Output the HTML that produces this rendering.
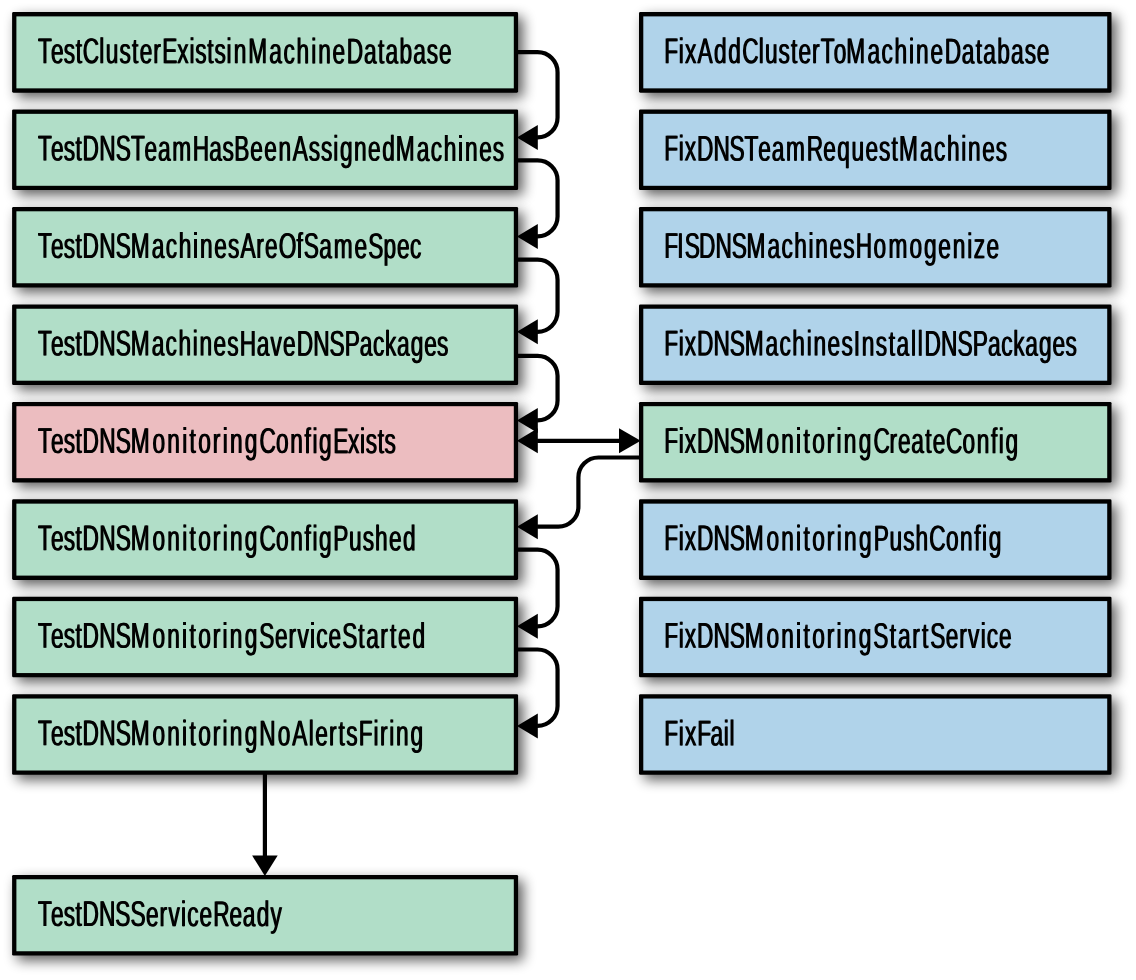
<!DOCTYPE html>
<html lang="en"><head><meta charset="utf-8"><title>Diagram</title>
<style>
html,body{margin:0;padding:0;background:#fff;}
body{width:1136px;height:980px;position:relative;overflow:hidden;font-family:"Liberation Sans",sans-serif;}
.o{fill:#000;}
.g{fill:#b1dec8}.u{fill:#b0d3ea}.p{fill:#ecbdc0}
svg{position:absolute;left:0;top:0;}
text{font-family:"Liberation Sans",sans-serif;font-size:36px;fill:#000;text-rendering:geometricPrecision;}
.a{fill:none;stroke:#000;stroke-width:4.2;}
</style></head><body>
<svg width="1136" height="980" viewBox="0 0 1136 980">
<defs><filter id="sh" x="-10%" y="-40%" width="120%" height="180%"><feGaussianBlur in="SourceAlpha" stdDeviation="6.5"/><feOffset dx="5" dy="5"/><feComponentTransfer><feFuncA type="linear" slope="0.64"/></feComponentTransfer><feMerge><feMergeNode/><feMergeNode in="SourceGraphic"/></feMerge></filter></defs>
<rect class="o" x="12.1" y="12.1" width="506" height="80.55" rx="1.3" filter="url(#sh)"/><rect class="g" x="16.4" y="16.4" width="497.4" height="71.95"/>
<rect class="o" x="12.1" y="109.55" width="506" height="80.55" rx="1.3" filter="url(#sh)"/><rect class="g" x="16.4" y="113.85" width="497.4" height="71.95"/>
<rect class="o" x="12.1" y="207" width="506" height="80.55" rx="1.3" filter="url(#sh)"/><rect class="g" x="16.4" y="211.3" width="497.4" height="71.95"/>
<rect class="o" x="12.1" y="304.45" width="506" height="80.55" rx="1.3" filter="url(#sh)"/><rect class="g" x="16.4" y="308.75" width="497.4" height="71.95"/>
<rect class="o" x="12.1" y="401.9" width="506" height="80.55" rx="1.3" filter="url(#sh)"/><rect class="p" x="16.4" y="406.2" width="497.4" height="71.95"/>
<rect class="o" x="12.1" y="499.35" width="506" height="80.55" rx="1.3" filter="url(#sh)"/><rect class="g" x="16.4" y="503.65" width="497.4" height="71.95"/>
<rect class="o" x="12.1" y="596.8" width="506" height="80.55" rx="1.3" filter="url(#sh)"/><rect class="g" x="16.4" y="601.1" width="497.4" height="71.95"/>
<rect class="o" x="12.1" y="694.25" width="506" height="80.55" rx="1.3" filter="url(#sh)"/><rect class="g" x="16.4" y="698.55" width="497.4" height="71.95"/>
<rect class="o" x="12.1" y="875" width="506" height="80.55" rx="1.3" filter="url(#sh)"/><rect class="g" x="16.4" y="879.3" width="497.4" height="71.95"/>
<rect class="o" x="639" y="12.1" width="472.5" height="80.55" rx="1.3" filter="url(#sh)"/><rect class="u" x="643.3" y="16.4" width="463.9" height="71.95"/>
<rect class="o" x="639" y="109.55" width="472.5" height="80.55" rx="1.3" filter="url(#sh)"/><rect class="u" x="643.3" y="113.85" width="463.9" height="71.95"/>
<rect class="o" x="639" y="207" width="472.5" height="80.55" rx="1.3" filter="url(#sh)"/><rect class="u" x="643.3" y="211.3" width="463.9" height="71.95"/>
<rect class="o" x="639" y="304.45" width="472.5" height="80.55" rx="1.3" filter="url(#sh)"/><rect class="u" x="643.3" y="308.75" width="463.9" height="71.95"/>
<rect class="o" x="639" y="401.9" width="472.5" height="80.55" rx="1.3" filter="url(#sh)"/><rect class="g" x="643.3" y="406.2" width="463.9" height="71.95"/>
<rect class="o" x="639" y="499.35" width="472.5" height="80.55" rx="1.3" filter="url(#sh)"/><rect class="u" x="643.3" y="503.65" width="463.9" height="71.95"/>
<rect class="o" x="639" y="596.8" width="472.5" height="80.55" rx="1.3" filter="url(#sh)"/><rect class="u" x="643.3" y="601.1" width="463.9" height="71.95"/>
<rect class="o" x="639" y="694.25" width="472.5" height="80.55" rx="1.3" filter="url(#sh)"/><rect class="u" x="643.3" y="698.55" width="463.9" height="71.95"/>
<path class="a" d="M517.1 52.2 H537.55 A20 20 0 0 1 557.55 72.2 V117.4 A20 20 0 0 1 537.55 137.4 H537.1"/><path d="M516.9 137.4 L537.8 124.9 L537.8 149.9 Z"/>
<path class="a" d="M517.1 160.3 H537.55 A20 20 0 0 1 557.55 180.3 V216.4 A20 20 0 0 1 537.55 236.4 H537.1"/><path d="M516.9 236.4 L537.8 223.9 L537.8 248.9 Z"/>
<path class="a" d="M517.1 259.7 H537.55 A20 20 0 0 1 557.55 279.7 V311.8 A20 20 0 0 1 537.55 331.8 H537.1"/><path d="M516.9 331.8 L537.8 319.3 L537.8 344.3 Z"/>
<path class="a" d="M517.1 355.8 H537.55 A20 20 0 0 1 557.55 375.8 V400.4 A20 20 0 0 1 537.55 420.4 H537.1"/><path d="M516.9 420.4 L537.8 407.9 L537.8 432.9 Z"/>
<path class="a" d="M517.1 549.6 H537.55 A20 20 0 0 1 557.55 569.6 V606.3 A20 20 0 0 1 537.55 626.3 H537.1"/><path d="M516.9 626.3 L537.8 613.8 L537.8 638.8 Z"/>
<path class="a" d="M517.1 649.5 H537.55 A20 20 0 0 1 557.55 669.5 V705.95 A20 20 0 0 1 537.55 725.95 H537.1"/><path d="M516.9 725.95 L537.8 713.45 L537.8 738.45 Z"/>
<path class="a" d="M537.1 440.8 H620"/>
<path d="M516.9 440.8 L537.8 428.3 L537.8 453.3 Z"/>
<path d="M640.7 440.8 L619 428.3 L619 453.3 Z"/>
<path class="a" d="M640 457.5 H598.4 A20 20 0 0 0 578.4 477.5 V506.7 A20 20 0 0 1 558.4 526.7 H537.1"/>
<path d="M516.9 526.7 L537.8 514.2 L537.8 539.2 Z"/>
<path class="a" d="M264.9 773.8 V856"/>
<path d="M264.9 875.9 L252.1 855.6 L277.7 855.6 Z"/>
<g class="t" opacity="0.999" transform="translate(-0.5,0)">
<text id="t0" transform="matrix(0.63,0.000567,0,1,0,-0.219)" y="63.35" x="60.14 80.97 101.38 120.21 131.51 157.7 167.95 189.65 209.46 221.78 243.37 257.52 281.22 300.65 309.75 329.03 340.49 359.49 371.06 393.87 427.54 450.03 470.79 493.92 505.03 527.94 550.54 577.63 600.03 612.03 634.11 655.98 677.56 696.81">TestClusterExistsinMachineDatabase</text><use href="#t0" x="1"/>
<text id="t1" transform="matrix(0.63,0.000567,0,1,0,-0.243)" y="160.75" x="60.14 80.79 101.05 119.75 131.02 157.54 183.78 207.92 229.49 250.67 273.29 305.78 332.21 353.05 371.65 397.25 419.54 442.17 464.86 490.25 509.4 529.08 539.62 562.03 584.24 606.6 628.32 661.68 683.87 704.33 727.16 737.97 760.59 782.03">TestDNSTeamHasBeenAssignedMachines</text><use href="#t1" x="1"/>
<text id="t2" transform="matrix(0.63,0.000567,0,1,0,-0.206)" y="258.05" x="60.14 80.79 101.05 119.75 131.02 157.57 183.79 207.52 240.92 263.13 283.62 306.46 317.29 339.9 361.86 381.84 406.95 420.79 442.27 470.7 482.33 506.78 529.73 562.51 584.4 608.62 630.17 650.73">TestDNSMachinesAreOfSameSpec</text><use href="#t2" x="1"/>
<text id="t3" transform="matrix(0.63,0.000567,0,1,0,-0.218)" y="355.65" x="60.14 80.79 101.05 119.75 131.02 157.57 183.79 207.52 240.75 262.83 283.17 305.89 316.59 339.06 360.89 380.7 407.67 429.56 449.24 470.86 497.1 523.11 547.21 571.13 592.22 611 630.27 652.05 673.43 693.78">TestDNSMachinesHaveDNSPackages</text><use href="#t3" x="1"/>
<text id="t4" transform="matrix(0.63,0.000567,0,1,0,-0.195)" y="453.05" x="60.14 80.79 101.05 119.75 131.02 157.57 183.79 207.52 242.03 265.57 289.13 300.84 314.67 337.78 353.4 364.9 388.65 411.83 438.24 460.81 483.32 495.87 506.52 528.79 552.33 571.59 580.52 599.63 610.44">TestDNSMonitoringConfigExists</text><use href="#t4" x="1"/>
<text id="t5" transform="matrix(0.63,0.000567,0,1,0,-0.203)" y="550.45" x="60.14 80.79 101.05 119.75 131.02 157.57 183.79 207.52 242.03 265.57 289.13 300.84 314.67 337.78 353.4 364.9 388.65 411.83 438.24 460.81 483.32 495.87 506.52 528.79 553.9 575.62 595.22 617.29 639.6">TestDNSMonitoringConfigPushed</text><use href="#t5" x="1"/>
<text id="t6" transform="matrix(0.63,0.000567,0,1,0,-0.207)" y="647.95" x="60.14 80.79 101.05 119.75 131.02 157.57 183.79 207.52 242 265.52 289.06 300.76 314.56 337.65 353.27 364.76 388.48 411.7 436.33 457.89 472.1 492.14 501.83 521.44 543.13 568.83 581.41 603.76 618.97 631.84 654.68">TestDNSMonitoringServiceStarted</text><use href="#t6" x="1"/>
<text id="t7" transform="matrix(0.63,0.000567,0,1,0,-0.206)" y="745.45" x="60.14 80.79 101.05 119.75 131.02 157.57 183.79 207.52 241.98 265.51 289.03 300.73 314.51 337.6 353.21 364.7 388.4 411.65 440.76 463.9 490.08 500.41 522.35 537.35 549.7 569.43 592.86 603.11 617.9 628.6 651.51">TestDNSMonitoringNoAlertsFiring</text><use href="#t7" x="1"/>
<text id="t8" transform="matrix(0.63,0.000567,0,1,0,-0.143)" y="926.15" x="60.14 80.79 101.05 119.75 131.02 157.16 183.11 207.1 231.68 253.21 267.38 287.4 297.05 316.63 338.32 364.33 385.46 407.59 429.37">TestDNSServiceReady</text><use href="#t8" x="1"/>
<text id="t9" transform="matrix(0.63,0.000567,0,1,0,-0.77)" y="63.35" x="1054.51 1077.56 1087.46 1107.24 1133.37 1156.06 1178.33 1204.3 1214.37 1235.84 1255.48 1267.57 1288.97 1302.84 1323.44 1343.4 1376.94 1399.35 1420.02 1443.06 1454.08 1476.9 1499.43 1526.52 1548.92 1560.92 1583 1604.87 1626.44 1645.7">FixAddClusterToMachineDatabase</text><use href="#t9" x="1"/>
<text id="t10" transform="matrix(0.63,0.000567,0,1,0,-0.752)" y="160.75" x="1054.51 1077.27 1086.92 1106.41 1132.37 1158.14 1181.89 1203.62 1224.95 1247.73 1280.38 1306.81 1329.11 1351.51 1373.63 1395.16 1415.08 1427.05 1460.38 1482.56 1503 1525.79 1536.59 1559.17 1580.6">FixDNSTeamRequestMachines</text><use href="#t10" x="1"/>
<text id="t11" transform="matrix(0.63,0.000567,0,1,0,-0.747)" y="258.05" x="1054.51 1075.1 1087.1 1109.43 1135.6 1161.52 1184.98 1218.22 1240.33 1260.7 1283.43 1294.14 1316.65 1338.49 1358.32 1386.6 1410.19 1443.76 1466.87 1489.46 1512.16 1535.16 1545.63 1565.7">FISDNSMachinesHomogenize</text><use href="#t11" x="1"/>
<text id="t12" transform="matrix(0.63,0.000567,0,1,0,-0.783)" y="355.65" x="1054.51 1077.27 1086.92 1106.41 1132.59 1158.51 1181.97 1215.24 1237.35 1257.71 1280.44 1291.17 1313.7 1335.54 1355.25 1367.83 1390.17 1410.59 1423.17 1445.92 1456.75 1467.37 1493.79 1519.97 1544.19 1568.19 1589.35 1608.19 1627.52 1649.38 1670.81 1691.24">FixDNSMachinesInstallDNSPackages</text><use href="#t12" x="1"/>
<text id="t13" transform="matrix(0.63,0.000567,0,1,0,-0.756)" y="453.05" x="1054.51 1077.27 1086.92 1106.41 1132.59 1158.51 1181.97 1216.49 1240.06 1263.63 1275.37 1289.19 1312.32 1327.95 1339.48 1363.24 1386.43 1411.79 1425.51 1446.49 1468.49 1480.38 1501.67 1527.98 1550.48 1572.9 1585.4 1595.95">FixDNSMonitoringCreateConfig</text><use href="#t13" x="1"/>
<text id="t14" transform="matrix(0.63,0.000567,0,1,0,-0.748)" y="550.45" x="1054.51 1077.27 1086.92 1106.41 1132.59 1158.51 1181.97 1216.52 1240.1 1263.7 1275.44 1289.29 1312.44 1328.1 1339.65 1363.43 1386.73 1411.89 1433.59 1453.17 1475.16 1501.48 1523.97 1546.4 1558.89 1569.44">FixDNSMonitoringPushConfig</text><use href="#t14" x="1"/>
<text id="t15" transform="matrix(0.63,0.000567,0,1,0,-0.753)" y="647.95" x="1054.51 1077.27 1086.92 1106.41 1132.59 1158.51 1181.97 1216.48 1240 1263.56 1275.29 1289.1 1312.21 1327.83 1339.33 1363.06 1386.3 1412.44 1425.37 1448.06 1463.59 1476.78 1501.22 1522.62 1536.68 1556.57 1566.1 1585.54">FixDNSMonitoringStartService</text><use href="#t15" x="1"/>
<text id="t16" transform="matrix(0.63,0.000567,0,1,0,-0.632)" y="745.45" x="1054.51 1077.38 1087.14 1106.73 1127.83 1148.79 1157.9">FixFail</text><use href="#t16" x="1"/>
</g>
</svg></body></html>
